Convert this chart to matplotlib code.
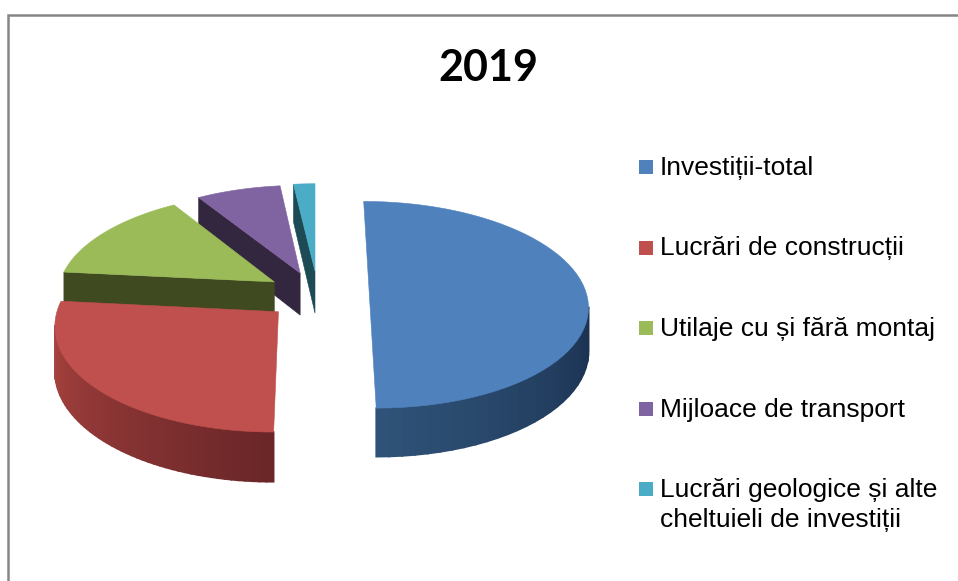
import numpy as np
import matplotlib
matplotlib.use('Agg')
import matplotlib.pyplot as plt
from matplotlib.patches import Rectangle
from matplotlib.colors import to_rgb

title = '2019'
labels = ['Investiții-total', 'Lucrări de construcții', 'Utilaje cu și fără montaj',
          'Mijloace de transport', 'Lucrări geologice și alte\ncheltuieli de investiții']
values = [50.0, 26.6, 14.5, 7.1, 1.8]

top_colors = ['#4f81bd', '#c0504d', '#9bbb59', '#8064a2', '#4bacc6']
face_colors = [None, None, '#3f4a20', '#33263f', '#1c4a55']
# wall colour at start and end of each slice's visible outer wall
wall_colors = [('#1a304e', '#2f5278'), ('#6a2628', '#a8433f'), None, None, None]
# how far each slice is pulled out of the pie, in radius units
offsets = [(0.25, 0.0), (-0.165, 0.18), (-0.19, -0.11), (-0.07, -0.2), (0.0, -0.22)]

# fake 3d projection, pixels
x0, y0 = 315, 293
rx, ry = 217, 102
k = 0.114
depth = 43


def project(wx, wy, z=0.):
    s = 1. / (1. - k * wy)
    return x0 + rx * wx * s, y0 + ry * wy * s + depth * s * z


fig = plt.figure(figsize=(9.58, 5.81), dpi=100)
ax = fig.add_axes([0, 0, 1, 1])
ax.set_xlim(0, 958)
ax.set_ylim(581, 0)
ax.axis('off')

# chart frame
ax.plot([8, 8, 958], [581, 15, 15], color='#868686', lw=1.8, solid_joinstyle='miter')

angles = np.cumsum([0] + values) / np.sum(values) * 2 * np.pi

# back slices first so the front ones hide them
for i in range(len(values) - 1, -1, -1):
    a, b = angles[i], angles[i + 1]
    ex, ey = offsets[i]
    t = np.linspace(a, b, 60)
    wx = ex + np.sin(t)
    wy = ey - np.cos(t)

    # outer wall, front part only
    if wall_colors[i] is not None:
        front = np.where(-np.cos(t) > k)[0]
        c1 = np.array(to_rgb(wall_colors[i][0]))
        c2 = np.array(to_rgb(wall_colors[i][1]))
        for n, j in enumerate(front[:-1]):
            f = n / max(len(front) - 2, 1)
            xa, ya = project(wx[j], wy[j])
            xb, yb = project(wx[j + 1], wy[j + 1])
            xc, yc = project(wx[j + 1], wy[j + 1], 1)
            xd, yd = project(wx[j], wy[j], 1)
            col = c1 + (c2 - c1) * f
            ax.fill([xa, xb, xc, xd], [ya, yb, yc, yd], color=col, lw=1.2)

    # cut face seen from the front
    if face_colors[i] is not None:
        xa, ya = project(ex, ey)
        xb, yb = project(wx[0], wy[0])
        xc, yc = project(wx[0], wy[0], 1)
        xd, yd = project(ex, ey, 1)
        ax.fill([xa, xb, xc, xd], [ya, yb, yc, yd], color=face_colors[i], lw=0.4)

    # top of the slice
    sx, sy = project(np.r_[ex, wx], np.r_[ey, wy])
    ax.fill(sx, sy, color=top_colors[i], lw=0.4)

ax.text(488, 68, title, fontsize=31, fontweight='bold', family='Lato',
        ha='center', va='center', color='black')

# legend, last entry wraps so the square stays on its first line
for i, lab in enumerate(labels):
    y = 167 + 80.5 * i
    ax.add_patch(Rectangle((639, y - 7), 14, 14, facecolor=top_colors[i], edgecolor='none'))
    for n, line in enumerate(lab.split('\n')):
        ax.text(660, y + 8 + 30 * n, line, fontsize=19, family='Liberation Sans',
                ha='left', va='baseline', color='black')

fig.savefig('out.png', dpi=100)
